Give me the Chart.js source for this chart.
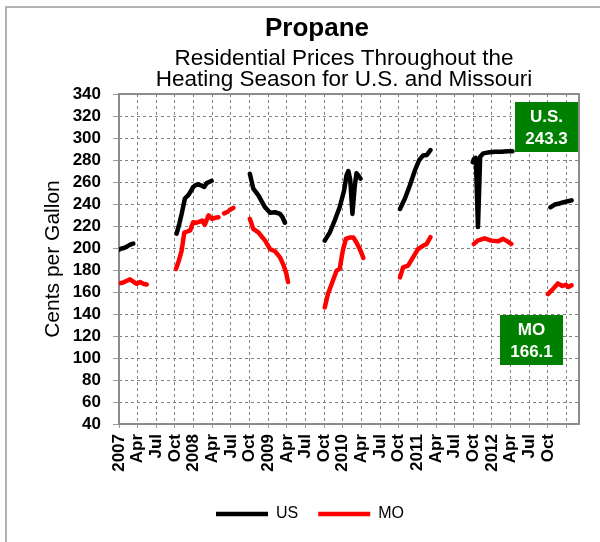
<!DOCTYPE html>
<html>
<head>
<meta charset="utf-8">
<script src="https://cdn.jsdelivr.net/npm/chart.js@4.4.1/dist/chart.umd.min.js"></script>
<style>
    html, body { margin: 0; padding: 0; background: #fff; }
</style>
</head>
<body>
<canvas id="propaneChart" width="600" height="542"></canvas>
<script>
// months counted from Jan 2007, null cents = break between heating seasons
const usMonth = [0, 0.4, 0.8, 1.2, 1.6, 2.0, 2.3, 6,
    9.27, 9.7, 10.08, 10.6, 11.14, 11.6, 11.94, 12.3, 12.65, 13.18, 13.71, 14.1, 14.5, 14.9, 18,
    21.05, 21.6, 22.4, 23.0, 23.5, 24.3, 25.1, 25.9, 26.3, 26.7, 30,
    33.1, 33.9, 34.7, 35.5, 36.2, 36.6, 36.9, 37.2, 37.55, 37.9, 38.2, 38.5, 38.85, 42,
    45.2, 46.0, 46.8, 47.6, 48.3, 48.9, 49.5, 50.1, 54,
    56.9, 57.1, 57.4, 57.75, 58.1, 58.6, 59.6, 60.5, 61.5, 62.5, 63.3, 66,
    69.4, 70.1, 70.9, 71.4, 72.2, 72.8];
const usCents = [198.5, 199.5, 200, 201, 202.5, 203.5, 204, null,
    213, 222, 231, 245, 248, 252, 255.5, 257, 258, 257, 255.5, 259, 260, 261, null,
    267.5, 254, 248, 242, 237, 232, 232.5, 231, 228, 223, null,
    206.7, 214, 225, 237, 252, 266, 270, 262, 231, 255, 268, 266, 263, null,
    235.5, 245, 257, 270.5, 280, 284, 284.5, 289, null,
    278, 281, 282, 219, 283, 286, 287, 287.5, 287.5, 288, 288, null,
    237, 239.5, 240.5, 241.5, 242.5, 243.3];

const moMonth = [0, 0.6, 1.2, 1.77, 2.3, 2.84, 3.4, 3.9, 4.45, 6,
    9.16, 9.6, 10.08, 10.5, 11.0, 11.45, 11.94, 12.4, 12.75, 13.39, 13.8, 14.4, 14.95, 15.5, 16.0, 16.4,
    16.9, 17.5, 17.65, 17.8, 18.4, 20,
    21.05, 21.6, 22.4, 23.5, 24.3, 25.1, 25.9, 26.5, 26.9, 27.2, 30,
    33.1, 33.6, 34.3, 35.0, 35.5, 36.0, 36.5, 37.1, 37.7, 38.2, 38.75, 39.3, 42,
    45.2, 45.7, 46.5, 47.3, 48.1, 48.9, 49.5, 50.1, 54,
    57.1, 57.7, 58.8, 59.9, 61.0, 61.8, 62.3, 63.1, 66,
    69.0, 69.8, 70.6, 71.3, 71.9, 72.3, 72.8];
const moCents = [168, 168.5, 170, 171.5, 169.5, 167.5, 169, 167.5, 166.8, null,
    181, 188, 197.6, 214, 215, 216, 223.5, 223, 223.5, 225, 221, 229.6, 226.5, 227.5, 228, null,
    231.5, 233, null, 234.5, 236.5, null,
    226.5, 217.4, 214.3, 206.7, 199, 197, 191.5, 184, 177, 169, null,
    146, 158, 168.7, 179.4, 181, 197.6, 208.3, 209.5, 209.5, 205, 199, 191, null,
    173.3, 182.4, 184, 191.5, 199, 202, 203.7, 209.8, null,
    203.7, 206.7, 208.8, 206.7, 206.1, 208.3, 206.7, 203.7, null,
    158, 162.6, 167.8, 165.5, 166.5, 164.5, 166.1];

const quarterLabels = ['2007', 'Apr', 'Jul', 'Oct', '2008', 'Apr', 'Jul', 'Oct',
    '2009', 'Apr', 'Jul', 'Oct', '2010', 'Apr', 'Jul', 'Oct',
    '2011', 'Apr', 'Jul', 'Oct', '2012', 'Apr', 'Jul', 'Oct', ''];

const chartTitle = 'Propane';
const subTitle = ['Residential Prices Throughout the', 'Heating Season for U.S. and Missouri'];

const FONT = '"Liberation Sans", Arial, sans-serif';

function toPoints(months, cents) {
    return months.map((m, i) => ({ x: m, y: cents[i] }));
}

function lastValue(cents) {
    return cents[cents.length - 1].toFixed(1);
}

// outer frame, plot border, titles and the two green value boxes
const decorPlugin = {
    id: 'decor',
    beforeDraw(chart) {
        const ctx = chart.ctx;
        ctx.save();
        ctx.fillStyle = '#fff';
        ctx.fillRect(0, 0, chart.width, chart.height);
        ctx.strokeStyle = '#9a9a9a';
        ctx.lineWidth = 1.5;
        ctx.strokeRect(6, 7, chart.width + 20, chart.height + 20);
        ctx.restore();
    },
    beforeDatasetsDraw(chart) {
        const ctx = chart.ctx;
        const a = chart.chartArea;
        ctx.save();
        ctx.strokeStyle = '#8c8c8c';
        ctx.lineWidth = 2;
        ctx.strokeRect(a.left, a.top, a.right - a.left, a.bottom - a.top);
        ctx.restore();
    },
    afterDraw(chart) {
        const ctx = chart.ctx;
        const a = chart.chartArea;
        ctx.save();
        ctx.fillStyle = '#000';
        ctx.textAlign = 'center';
        ctx.textBaseline = 'alphabetic';
        ctx.font = 'bold 26px ' + FONT;
        ctx.fillText(chartTitle, 317, 36);
        ctx.font = '22.5px ' + FONT;
        ctx.fillText(subTitle[0], 344, 65);
        ctx.fillText(subTitle[1], 344, 86);

        const boxes = [
            { left: a.right - 64, top: a.top + 8, lines: ['U.S.', lastValue(usCents)] },
            { left: a.right - 79, top: a.top + 221, lines: ['MO', lastValue(moCents)] }
        ];
        boxes.forEach(b => {
            ctx.fillStyle = '#008000';
            ctx.fillRect(b.left, b.top, 63, 50);
            ctx.fillStyle = '#fff';
            ctx.font = 'bold 17px ' + FONT;
            ctx.textBaseline = 'middle';
            ctx.fillText(b.lines[0], b.left + 31.5, b.top + 15);
            ctx.fillText(b.lines[1], b.left + 31.5, b.top + 37);
        });
        ctx.restore();
    }
};

const ctx = document.getElementById('propaneChart').getContext('2d');
const propaneChart = new Chart(ctx, {
    type: 'line',
    data: {
        datasets: [
            {
                label: 'US',
                data: toPoints(usMonth, usCents),
                borderColor: '#000000',
                backgroundColor: '#000000',
                borderWidth: 4.5
            },
            {
                label: 'MO',
                data: toPoints(moMonth, moCents),
                borderColor: '#ff0000',
                backgroundColor: '#ff0000',
                borderWidth: 4.5
            }
        ]
    },
    options: {
        responsive: false,
        animation: false,
        spanGaps: false,
        layout: { padding: { top: 94, right: 21, bottom: 10, left: 41 } },
        elements: {
            point: { radius: 0, hoverRadius: 0 },
            line: { tension: 0, borderCapStyle: 'round', borderJoinStyle: 'round' }
        },
        plugins: {
            title: { display: false },
            tooltip: { enabled: false },
            legend: {
                position: 'bottom',
                labels: {
                    usePointStyle: true,
                    pointStyle: 'line',
                    pointStyleWidth: 52,
                    color: '#000',
                    padding: 20,
                    font: { family: FONT, size: 16 }
                }
            }
        },
        scales: {
            x: {
                type: 'linear',
                min: 0,
                max: 74,
                afterFit: (scale) => { scale.height = 62; },
                border: { display: false, dash: [3, 3] },
                grid: { color: '#808080', lineWidth: 1, tickLength: 4, tickColor: '#9a9a9a', tickBorderDash: [] },
                ticks: {
                    stepSize: 3,
                    includeBounds: false,
                    autoSkip: false,
                    maxRotation: 90,
                    minRotation: 90,
                    padding: 6,
                    color: '#000',
                    font: { family: FONT, size: 17, weight: 'bold' },
                    callback: (v) => quarterLabels[Math.round(v / 3)] ?? ''
                }
            },
            y: {
                min: 40,
                max: 340,
                afterFit: (scale) => { scale.width = 78; },
                border: { display: false, dash: [3, 3] },
                grid: { color: '#808080', lineWidth: 1, tickLength: 6, tickColor: '#9a9a9a', tickBorderDash: [] },
                ticks: {
                    stepSize: 20,
                    autoSkip: false,
                    padding: 12,
                    color: '#000',
                    font: { family: FONT, size: 17, weight: 'bold' }
                },
                title: {
                    display: true,
                    text: 'Cents per Gallon',
                    color: '#000',
                    padding: { top: 0, bottom: 0 },
                    font: { family: FONT, size: 21 }
                }
            }
        }
    },
    plugins: [decorPlugin]
});
</script>
</body>
</html>
